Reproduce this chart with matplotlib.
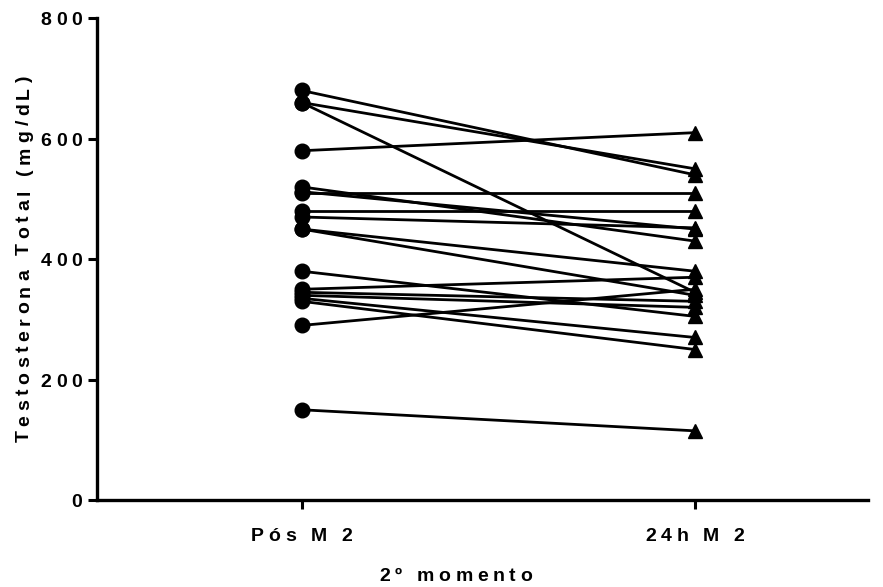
import matplotlib
matplotlib.use("Agg")
import matplotlib.pyplot as plt
import matplotlib.transforms as mtransforms
from matplotlib.font_manager import FontProperties, findfont
from matplotlib.ft2font import FT2Font

plt.rcParams['font.family'] = ['Liberation Sans', 'DejaVu Sans']

categories = ["Pós M 2", "24h M 2"]
pos_m2 = [680, 660, 660, 580, 520, 512, 510, 480, 470, 450, 450, 380, 350, 345, 340, 335, 330, 290, 150]
h24_m2 = [540, 550, 345, 610, 430, 450, 510, 480, 452, 380, 340, 305, 370, 330, 320, 270, 250, 350, 115]
yticks = [0, 200, 400, 600, 800]
xlabel = "2º momento"
ylabel = "Testosterona Total (mg/dL)"

DPI = 100
FS = 14
SPACING_EM = 0.25
prop = FontProperties(family='Liberation Sans', weight='bold', size=FS)

fig = plt.figure(figsize=(8.83, 5.87), dpi=DPI)
ax = fig.add_axes([0.110, 0.148, 0.873, 0.821])


def advances(s):
    f = FT2Font(findfont(prop), hinting_factor=1)
    f.set_size(FS, DPI)
    out = []
    for ch in s:
        g = f.load_char(ord(ch))
        out.append(g.linearHoriAdvance / 65536.0)
    return out


def spaced_text(x, y, s, transform, ha='center', rotation=0, dx=0.0, dy=0.0):
    """Draw text with extra letter spacing; offsets in pixels along the text direction."""
    adv = advances(s)
    sp = SPACING_EM * FS * DPI / 72.0
    total = sum(adv) + sp * (len(s) - 1)
    if ha == 'center':
        start = -total / 2
    elif ha == 'right':
        start = -total
    else:
        start = 0.0
    pos = start
    for ch, w in zip(s, adv):
        if rotation == 90:
            ox, oy = dx, dy + pos
        else:
            ox, oy = dx + pos, dy
        tr = mtransforms.offset_copy(transform, fig=fig, x=ox, y=oy, units='dots')
        ax.text(x, y, ch, transform=tr, fontproperties=prop, ha='left', va='baseline',
                rotation=rotation, rotation_mode='anchor', clip_on=False)
        pos += w + sp


for a, b in zip(pos_m2, h24_m2):
    ax.plot([0, 1], [a, b], color='black', lw=2.0, zorder=2, solid_capstyle='butt')
ax.plot([0] * len(pos_m2), pos_m2, 'o', color='black', ms=10.5, zorder=3, clip_on=False)
ax.plot([1] * len(h24_m2), h24_m2, '^', color='black', ms=10.5, zorder=3, clip_on=False)

ax.set_xlim(-0.52, 1.44)
ax.set_ylim(0, 800)
ax.set_xticks([0, 1])
ax.set_xticklabels([])
ax.set_yticks(yticks)
ax.set_yticklabels([])
ax.tick_params(axis='both', direction='out', length=6.5, width=2.2)

for s in ['top', 'right']:
    ax.spines[s].set_visible(False)
for s in ['left', 'bottom']:
    ax.spines[s].set_linewidth(2.4)

# tick labels
for t in yticks:
    spaced_text(0, t, str(t), ax.get_yaxis_transform(), ha='right', dx=-15, dy=-7)
for i, c in enumerate(categories):
    spaced_text(i, 0, c, ax.get_xaxis_transform(), ha='center', dy=-41)

# axis labels
spaced_text(0.465, 0, xlabel, ax.transAxes, ha='center', dy=-81)
spaced_text(0, 0.5, ylabel, ax.transAxes, ha='center', rotation=90, dx=-68)

fig.savefig("out.png", dpi=DPI)
